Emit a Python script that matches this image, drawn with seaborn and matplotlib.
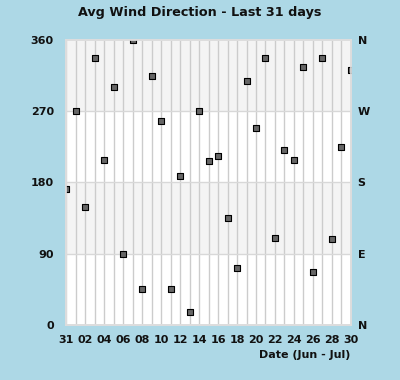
import matplotlib
matplotlib.use('Agg')
import numpy as np
import pandas as pd
import matplotlib.pyplot as plt
import seaborn as sns

# day labels (May 31 .. Jun 30) and average wind direction in degrees
days = ['31', '01', '02', '03', '04', '05', '06', '07', '08', '09', '10',
        '11', '12', '13', '14', '15', '16', '17', '18', '19', '20',
        '21', '22', '23', '24', '25', '26', '27', '28', '29', '30']
direction = [172, 270, 149, 337, 208, 301, 90, 360, 45, 314, 258,
             45, 188, 16, 270, 207, 213, 135, 72, 308, 249,
             337, 110, 221, 208, 326, 67, 337, 109, 225, 322]
deg_ticks = [0, 90, 180, 270, 360]
compass = ['N', 'E', 'S', 'W', 'N']

df = pd.DataFrame({'pos': np.arange(len(days)), 'dir': direction})

sns.set_theme(style='white')
plt.rcParams['font.family'] = ['DejaVu Sans']
plt.rcParams['text.color'] = '#111111'
plt.rcParams['xtick.color'] = '#111111'
plt.rcParams['ytick.color'] = '#111111'
plt.rcParams['axes.labelcolor'] = '#111111'
bg = '#add8e6'

fig = plt.figure(figsize=(4, 3.8), dpi=100, facecolor=bg)
ax = fig.add_axes([0.166, 0.145, 0.711, 0.75])
ax.set_facecolor('white')

# alternating bands and grid
for lo, hi in [(90, 180), (270, 360)]:
    ax.axhspan(lo, hi, color='#f4f4f4', zorder=0, lw=0)
for p in df['pos']:
    ax.axvline(p, color='#cccccc', lw=1, zorder=1)
for h in [90, 180, 270]:
    ax.axhline(h, color='#d8d8d8', lw=1, zorder=1)

sns.scatterplot(data=df, x='pos', y='dir', ax=ax, marker='s', s=16,
                color='#666666', edgecolor='black', linewidth=0.8, zorder=3)

ax.set_xlim(0, len(days) - 1)
ax.set_ylim(0, 360)
ax.set_xticks(df['pos'][::2])
ax.set_xticklabels(days[::2], fontsize=8, fontweight='bold')
ax.set_yticks(deg_ticks)
ax.set_yticklabels([str(t) for t in deg_ticks], fontsize=8, fontweight='bold')
ax.tick_params(axis='x', length=0, pad=7)
ax.tick_params(axis='y', length=0, pad=9)
ax.set_xlabel('Date (Jun - Jul)', fontsize=8, fontweight='bold', loc='right')
ax.set_ylabel('')
for sp in ax.spines.values():
    sp.set_color('#dddddd')

ax2 = ax.twinx()
ax2.set_ylim(0, 360)
ax2.set_yticks(deg_ticks)
ax2.set_yticklabels(compass, fontsize=8, fontweight='bold')
ax2.tick_params(length=0, pad=5)
for sp in ax2.spines.values():
    sp.set_color('#dddddd')

fig.suptitle('Avg Wind Direction - Last 31 days', x=0.5, y=0.985,
             fontsize=9.2, fontweight='bold')

fig.savefig('out.png', dpi=100, facecolor=bg)
